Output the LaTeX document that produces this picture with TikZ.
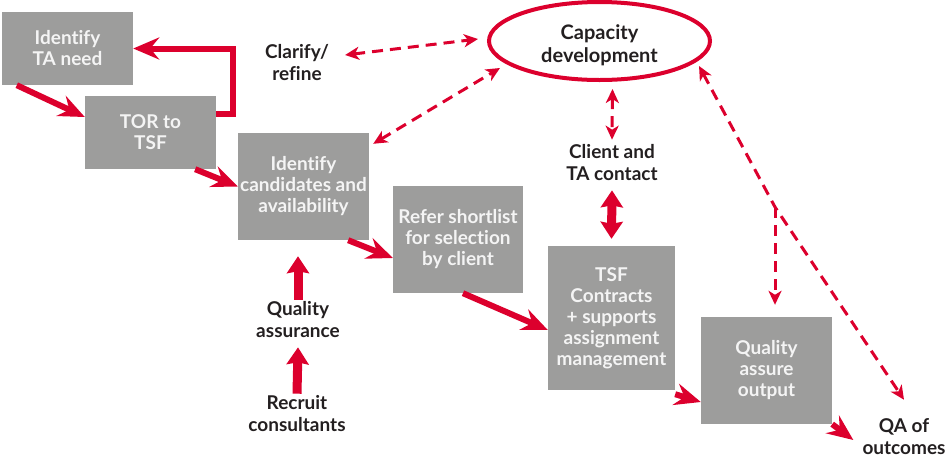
\documentclass[tikz,border=0pt]{standalone}
\usepackage{fontspec}
\setmainfont{Lato}[Ligatures=NoCommon]
\usetikzlibrary{arrows.meta,shapes.geometric}
\definecolor{tsfred}{RGB}{220,0,45}
\definecolor{tsfgray}{RGB}{157,157,156}
\definecolor{tsfink}{RGB}{35,31,32}
\definecolor{tsfpale}{RGB}{244,244,244}
\tikzset{
  stagebox/.style={fill=tsfgray, text=tsfpale, inner sep=0pt, align=center, font=\fontsize{19}{21}\selectfont\bfseries},
  notetext/.style={text=tsfink, inner sep=2pt, align=center, font=\fontsize{19}{22}\selectfont\bfseries},
  flowarrow/.style={tsfred, line width=6pt, -{Stealth[length=26pt,width=22pt,inset=9pt]}},
  pusharrow/.style={tsfred, line width=9pt, >={Stealth[length=17pt,width=22pt,inset=2pt]}, ->},
  dashlink/.style={tsfred, line width=3pt, dash pattern=on 11pt off 7pt, >={Stealth[length=14pt,width=13pt,inset=4pt]}, <->},
}
\begin{document}
\begin{tikzpicture}[x=1pt,y=-1pt]
        \useasboundingbox (0,0) rectangle (950,459);
        \node[stagebox, minimum width=131pt, minimum height=73pt] (need) at (67.5,48.5) {Identify\\TA need};
        \node[stagebox, minimum width=131pt, minimum height=73pt] (tor) at (150.5,132.5) {TOR to\\TSF};
        \node[stagebox, minimum width=131pt, minimum height=107pt] (cand) at (303.5,186.5) {Identify\\candidates and\\availability};
        \node[stagebox, minimum width=130pt, minimum height=107pt] (short) at (458,239.5) {Refer shortlist\\for selection\\by client};
        \node[stagebox, minimum width=127pt, minimum height=144pt] (contract) at (611.5,318) {TSF\\Contracts\\+ supports\\assignment\\management};
        \node[stagebox, minimum width=131pt, minimum height=107pt] (qaout) at (766.5,370.5) {Quality\\assure\\output};
        
        \node[notetext] (clarify) at (297,63) {Clarify/\\refine};
        \node[notetext] (client) at (612,163) {Client and\\TA contact};
        \node[notetext] (quality) at (298,320) {Quality\\assurance};
        \node[notetext] (recruit) at (297,414) {Recruit\\consultants};
        \node[notetext] (outcomes) at (904,437) {QA of\\outcomes};
        \node[ellipse, draw=tsfred, line width=4pt, minimum width=221pt, minimum height=78pt, inner sep=0pt] (capacity) at (599.5,41) {};
        \node[notetext, font=\fontsize{20}{23}\selectfont\bfseries] (captext) at ([yshift=-4pt]capacity.center) {Capacity\\development};
        
        \draw[flowarrow] ([xshift=15pt]need.south west) -- ([yshift=15.5pt]tor.west);
        \draw[flowarrow] ([yshift=18.5pt]tor.east) -| ([xshift=100pt]need.east) -- (need.east);
        \draw[flowarrow] ([xshift=-21pt]tor.south east) -- (cand.west);
        \draw[flowarrow] ([xshift=-21pt]cand.south east) -- ([yshift=-18.5pt]short.west);
        \draw[flowarrow] ([xshift=5pt]short.south) -- ([yshift=-12pt]contract.west);
        \draw[flowarrow] ([yshift=-4pt]contract.south east) -- ([yshift=-31.5pt]qaout.west);
        \draw[flowarrow] (qaout.south east) -- ([xshift=-7pt,yshift=-3pt]outcomes.west);
        
        \draw[pusharrow] (quality.north) -- ([xshift=-5.5pt,yshift=-16pt]cand.south);
        \draw[pusharrow] (recruit.north) -- ([yshift=-7pt]quality.south);
        \draw[pusharrow, <->] ([yshift=-7pt]client.south) -- ([yshift=7pt]contract.north);
        
        \draw[dashlink] ([xshift=14pt,yshift=8pt]clarify.east) -- ([xshift=-9pt,yshift=2pt]capacity.west);
        \draw[dashlink] ([xshift=4pt,yshift=-11pt]cand.north east) -- ([xshift=-20pt,yshift=2pt]capacity.south west);
        \draw[dashlink] ([xshift=13pt,yshift=-7pt]capacity.south) -- ([yshift=3pt]client.north);
        \coordinate (fork) at (775,207);
        \draw[dashlink] ([xshift=20pt,yshift=4pt]capacity.south east) -- (fork) -- ([yshift=17pt]outcomes.north);
        \draw[dashlink, ->] (fork) -- ([xshift=8.5pt,yshift=12pt]qaout.north);
    \end{tikzpicture}
\end{document}
